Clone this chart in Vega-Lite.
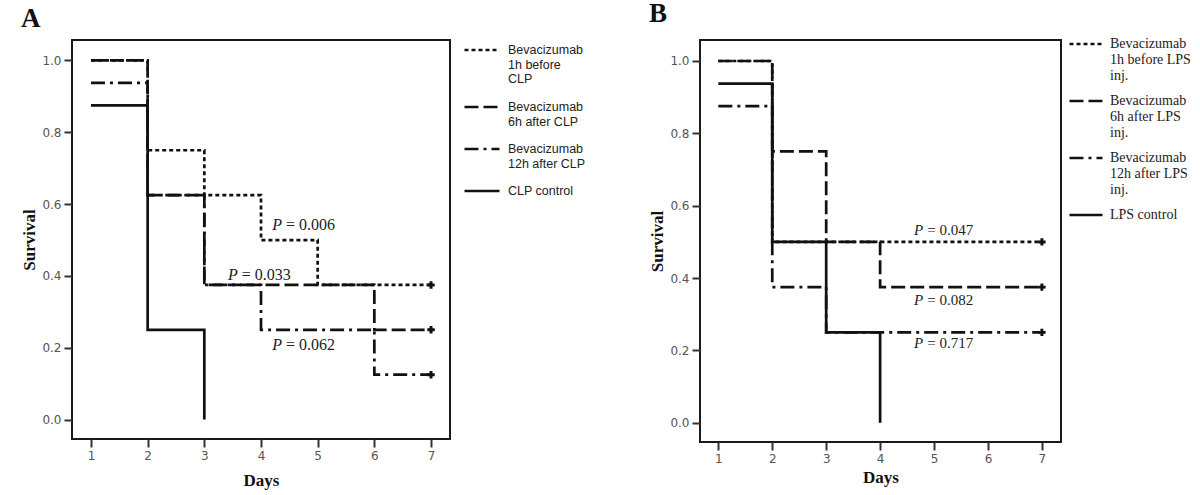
{
  "$schema": "https://vega.github.io/schema/vega-lite/v6.json",
  "background": "white",
  "padding": {"left": 19, "top": -1, "right": 5, "bottom": 5},
  "spacing": 60,
  "datasets": {
    "survA": [
      {"group": "Bevacizumab 1h before CLP", "day": 1, "surv": 1.0},
      {"group": "Bevacizumab 1h before CLP", "day": 2, "surv": 0.75},
      {"group": "Bevacizumab 1h before CLP", "day": 3, "surv": 0.625},
      {"group": "Bevacizumab 1h before CLP", "day": 4, "surv": 0.5},
      {"group": "Bevacizumab 1h before CLP", "day": 5, "surv": 0.375},
      {"group": "Bevacizumab 1h before CLP", "day": 7, "surv": 0.375},
      {"group": "Bevacizumab 6h after CLP", "day": 1, "surv": 1.0},
      {"group": "Bevacizumab 6h after CLP", "day": 2, "surv": 0.625},
      {"group": "Bevacizumab 6h after CLP", "day": 3, "surv": 0.375},
      {"group": "Bevacizumab 6h after CLP", "day": 6, "surv": 0.25},
      {"group": "Bevacizumab 6h after CLP", "day": 7, "surv": 0.25},
      {"group": "Bevacizumab 12h after CLP", "day": 1, "surv": 0.9375},
      {"group": "Bevacizumab 12h after CLP", "day": 2, "surv": 0.625},
      {"group": "Bevacizumab 12h after CLP", "day": 3, "surv": 0.375},
      {"group": "Bevacizumab 12h after CLP", "day": 4, "surv": 0.25},
      {"group": "Bevacizumab 12h after CLP", "day": 6, "surv": 0.125},
      {"group": "Bevacizumab 12h after CLP", "day": 7, "surv": 0.125},
      {"group": "CLP control", "day": 1, "surv": 0.875},
      {"group": "CLP control", "day": 2, "surv": 0.25},
      {"group": "CLP control", "day": 3, "surv": 0.0}
    ],
    "censA": [
      {"day": 7, "surv": 0.375},
      {"day": 7, "surv": 0.25},
      {"day": 7, "surv": 0.125}
    ],
    "pA": [
      {"day": 4.37, "surv": 0.543, "txt": "= 0.006"},
      {"day": 3.59, "surv": 0.402, "txt": "= 0.033"},
      {"day": 4.37, "surv": 0.209, "txt": "= 0.062"}
    ],
    "survB": [
      {"group": "Bevacizumab 1h before LPS inj.", "day": 1, "surv": 1.0},
      {"group": "Bevacizumab 1h before LPS inj.", "day": 2, "surv": 0.5},
      {"group": "Bevacizumab 1h before LPS inj.", "day": 7, "surv": 0.5},
      {"group": "Bevacizumab 6h after LPS inj.", "day": 1, "surv": 1.0},
      {"group": "Bevacizumab 6h after LPS inj.", "day": 2, "surv": 0.75},
      {"group": "Bevacizumab 6h after LPS inj.", "day": 3, "surv": 0.5},
      {"group": "Bevacizumab 6h after LPS inj.", "day": 4, "surv": 0.375},
      {"group": "Bevacizumab 6h after LPS inj.", "day": 7, "surv": 0.375},
      {"group": "Bevacizumab 12h after LPS inj.", "day": 1, "surv": 0.875},
      {"group": "Bevacizumab 12h after LPS inj.", "day": 2, "surv": 0.375},
      {"group": "Bevacizumab 12h after LPS inj.", "day": 3, "surv": 0.25},
      {"group": "Bevacizumab 12h after LPS inj.", "day": 7, "surv": 0.25},
      {"group": "LPS control", "day": 1, "surv": 0.9375},
      {"group": "LPS control", "day": 2, "surv": 0.5},
      {"group": "LPS control", "day": 3, "surv": 0.25},
      {"group": "LPS control", "day": 4, "surv": 0.0}
    ],
    "censB": [
      {"day": 7, "surv": 0.5},
      {"day": 7, "surv": 0.375},
      {"day": 7, "surv": 0.25}
    ],
    "pB": [
      {"day": 4.8, "surv": 0.533, "txt": "= 0.047"},
      {"day": 4.8, "surv": 0.34, "txt": "= 0.082"},
      {"day": 4.8, "surv": 0.22, "txt": "= 0.717"}
    ]
  },
  "config": {
    "view": {"stroke": "#1a1a1a", "strokeWidth": 2},
    "axis": {
      "grid": false,
      "domain": false,
      "tickColor": "#333",
      "tickWidth": 2,
      "tickSize": 8,
      "labelFont": "DejaVu Sans",
      "labelFontSize": 12,
      "labelColor": "#555",
      "labelPadding": 3,
      "titleFont": "Liberation Serif",
      "titleFontSize": 17,
      "titleFontWeight": "bold",
      "titleColor": "#111"
    },
    "axisY": {"titlePadding": 3},
    "title": {"font": "Liberation Serif", "fontSize": 27, "fontWeight": "bold", "anchor": "start", "frame": "bounds", "color": "#111"}
  },
  "resolve": {"scale": {"strokeDash": "independent"}, "legend": {"strokeDash": "independent"}},
  "hconcat": [
    {
      "width": 378,
      "height": 399,
      "title": {"text": "A", "offset": -2},
      "layer": [
        {
          "data": {"name": "survA"},
          "mark": {"type": "line", "interpolate": "step-after", "color": "#111", "strokeWidth": 2.7},
          "encoding": {
            "x": {"field": "day", "type": "quantitative", "scale": {"domain": [0.665, 7.335], "nice": false, "zero": false}, "axis": {"values": [1, 2, 3, 4, 5, 6, 7], "format": "d", "title": "Days", "titlePadding": 11}},
            "y": {"field": "surv", "type": "quantitative", "scale": {"domain": [-0.054, 1.057], "nice": false, "zero": false}, "axis": {"values": [0, 0.2, 0.4, 0.6, 0.8, 1.0], "format": ".1f", "title": "Survival"}},
            "strokeDash": {
              "field": "group", "type": "nominal",
              "scale": {"domain": ["Bevacizumab 1h before CLP", "Bevacizumab 6h after CLP", "Bevacizumab 12h after CLP", "CLP control"], "range": [[4, 3], [14, 5], [14, 5, 3, 5], [1, 0]]},
              "legend": {
                "title": null, "orient": "none", "legendX": 391, "legendY": -9, "padding": 0,
                "symbolType": "stroke", "symbolSize": 1225, "symbolStrokeWidth": 2.7, "symbolStrokeColor": "#111",
                "labelFont": "Liberation Sans", "labelFontSize": 12.5, "labelColor": "#222", "labelLimit": 300, "labelOffset": 7,
                "rowPadding": 2,
                "labelExpr": "datum.label == 'Bevacizumab 1h before CLP' ? ['Bevacizumab', '1h before', 'CLP'] : datum.label == 'Bevacizumab 6h after CLP' ? ['Bevacizumab', '6h after CLP'] : datum.label == 'Bevacizumab 12h after CLP' ? ['Bevacizumab', '12h after CLP'] : datum.label"
              }
            }
          }
        },
        {
          "data": {"name": "censA"},
          "mark": {"type": "point", "shape": "cross", "filled": true, "size": 55, "color": "#111", "opacity": 1},
          "encoding": {"x": {"field": "day", "type": "quantitative"}, "y": {"field": "surv", "type": "quantitative"}}
        },
        {
          "data": {"name": "pA"},
          "mark": {"type": "text", "text": "P", "align": "right", "baseline": "middle", "font": "Liberation Serif", "fontStyle": "italic", "fontSize": 16, "color": "#222"},
          "encoding": {"x": {"field": "day", "type": "quantitative"}, "y": {"field": "surv", "type": "quantitative"}}
        },
        {
          "data": {"name": "pA"},
          "mark": {"type": "text", "align": "left", "dx": 4, "baseline": "middle", "font": "Liberation Serif", "fontSize": 16, "color": "#222"},
          "encoding": {"x": {"field": "day", "type": "quantitative"}, "y": {"field": "surv", "type": "quantitative"}, "text": {"field": "txt"}}
        }
      ]
    },
    {
      "width": 361,
      "height": 402,
      "title": {"text": "B", "offset": -2},
      "layer": [
        {
          "data": {"name": "survB"},
          "mark": {"type": "line", "interpolate": "step-after", "color": "#111", "strokeWidth": 2.7},
          "encoding": {
            "x": {"field": "day", "type": "quantitative", "scale": {"domain": [0.66, 7.354], "nice": false, "zero": false}, "axis": {"values": [1, 2, 3, 4, 5, 6, 7], "format": "d", "title": "Days", "titlePadding": 5}},
            "y": {"field": "surv", "type": "quantitative", "scale": {"domain": [-0.053, 1.058], "nice": false, "zero": false}, "axis": {"values": [0, 0.2, 0.4, 0.6, 0.8, 1.0], "format": ".1f", "title": "Survival"}},
            "strokeDash": {
              "field": "group", "type": "nominal",
              "scale": {"domain": ["Bevacizumab 1h before LPS inj.", "Bevacizumab 6h after LPS inj.", "Bevacizumab 12h after LPS inj.", "LPS control"], "range": [[4, 3], [14, 5], [14, 5, 3, 5], [1, 0]]},
              "legend": {
                "title": null, "orient": "none", "legendX": 368, "legendY": -14, "padding": 0,
                "symbolType": "stroke", "symbolSize": 1089, "symbolStrokeWidth": 2.7, "symbolStrokeColor": "#111",
                "labelFont": "Liberation Serif", "labelFontSize": 14, "labelColor": "#222", "labelLimit": 300, "labelOffset": 6,
                "rowPadding": -5,
                "labelExpr": "datum.label == 'Bevacizumab 1h before LPS inj.' ? ['Bevacizumab', '1h before LPS', 'inj.'] : datum.label == 'Bevacizumab 6h after LPS inj.' ? ['Bevacizumab', '6h after LPS', 'inj.'] : datum.label == 'Bevacizumab 12h after LPS inj.' ? ['Bevacizumab', '12h after LPS', 'inj.'] : datum.label"
              }
            }
          }
        },
        {
          "data": {"name": "censB"},
          "mark": {"type": "point", "shape": "cross", "filled": true, "size": 55, "color": "#111", "opacity": 1},
          "encoding": {"x": {"field": "day", "type": "quantitative"}, "y": {"field": "surv", "type": "quantitative"}}
        },
        {
          "data": {"name": "pB"},
          "mark": {"type": "text", "text": "P", "align": "right", "baseline": "middle", "font": "Liberation Serif", "fontStyle": "italic", "fontSize": 15, "color": "#222"},
          "encoding": {"x": {"field": "day", "type": "quantitative"}, "y": {"field": "surv", "type": "quantitative"}}
        },
        {
          "data": {"name": "pB"},
          "mark": {"type": "text", "align": "left", "dx": 4, "baseline": "middle", "font": "Liberation Serif", "fontSize": 15, "color": "#222"},
          "encoding": {"x": {"field": "day", "type": "quantitative"}, "y": {"field": "surv", "type": "quantitative"}, "text": {"field": "txt"}}
        }
      ]
    }
  ]
}
